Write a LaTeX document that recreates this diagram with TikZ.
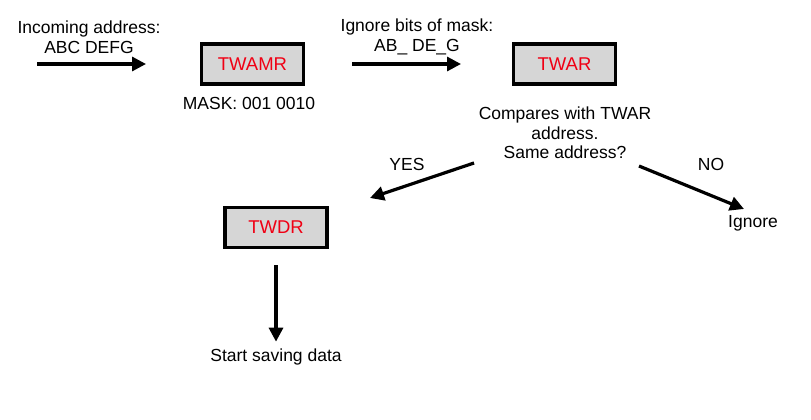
\documentclass[tikz,border=0pt]{standalone}
\usepackage{fontspec}
\setmainfont{Liberation Sans}
\usepackage{xcolor}
\usetikzlibrary{arrows.meta,positioning,calc}
\definecolor{regfill}{RGB}{214,214,214}
\definecolor{regred}{RGB}{240,0,20}

\begin{document}
\begin{tikzpicture}[x=1pt, y=-1pt, font=\fontsize{17.5}{19.5}\selectfont]
    \tikzstyle{reg} = [rectangle, draw, line width=3.6pt, fill=regfill, text=regred, font=\fontsize{18.5}{20}\selectfont, minimum width=102pt, minimum height=40pt, inner sep=0pt]
    \tikzstyle{txt} = [align=center, inner sep=0pt]
    \tikzstyle{arrow} = [line width=3.2pt, -{Triangle[length=14pt, width=14pt]}]
    \useasboundingbox (0,0) rectangle (811,420);

    % Registers
    \node[reg] (twamr) at (252.5,64) {TWAMR};
    \node[reg] (twar) at (564.5,64) {TWAR};
    \node[reg] (twdr) at (276,227.5) {TWDR};

    % Input and mask
    \coordinate (in1) at (37,64);
    \coordinate (in2) at (146,64);
    \node[txt] (incoming) at (89,37) {Incoming address:\\ABC DEFG};
    \node[txt] (mask) at (249,103) {MASK: 001 0010};
    \coordinate (m1) at (352,64);
    \coordinate (m2) at (461,64);
    \node[txt] (ignbits) at (417,37) {Ignore bits of mask:\\AB\_ DE\_G};

    % Compare
    \node[txt] (compare) at (565,133) {Compares with TWAR\\address.\\Same address?};
    \coordinate (y1) at (474,163);
    \coordinate (y2) at (370,198);
    \coordinate (n1) at (639,166);
    \coordinate (n2) at (744,209);
    \node[txt] (yes) at (407,164) {YES};
    \node[txt] (no) at (711,164) {NO};
    \node[txt] (ignore) at (753,223) {Ignore};
    \node[txt] (save) at (276,357) {Start saving data};

    % Arrows
    \draw[arrow] (in1) -- (in2);
    \draw[arrow] (m1) -- (m2);
    \draw[arrow] (y1) -- (y2);
    \draw[arrow] (n1) -- (n2);
    \draw[arrow, shorten <=16pt, shorten >=7pt] (twdr) -- (save);
\end{tikzpicture}
\end{document}
